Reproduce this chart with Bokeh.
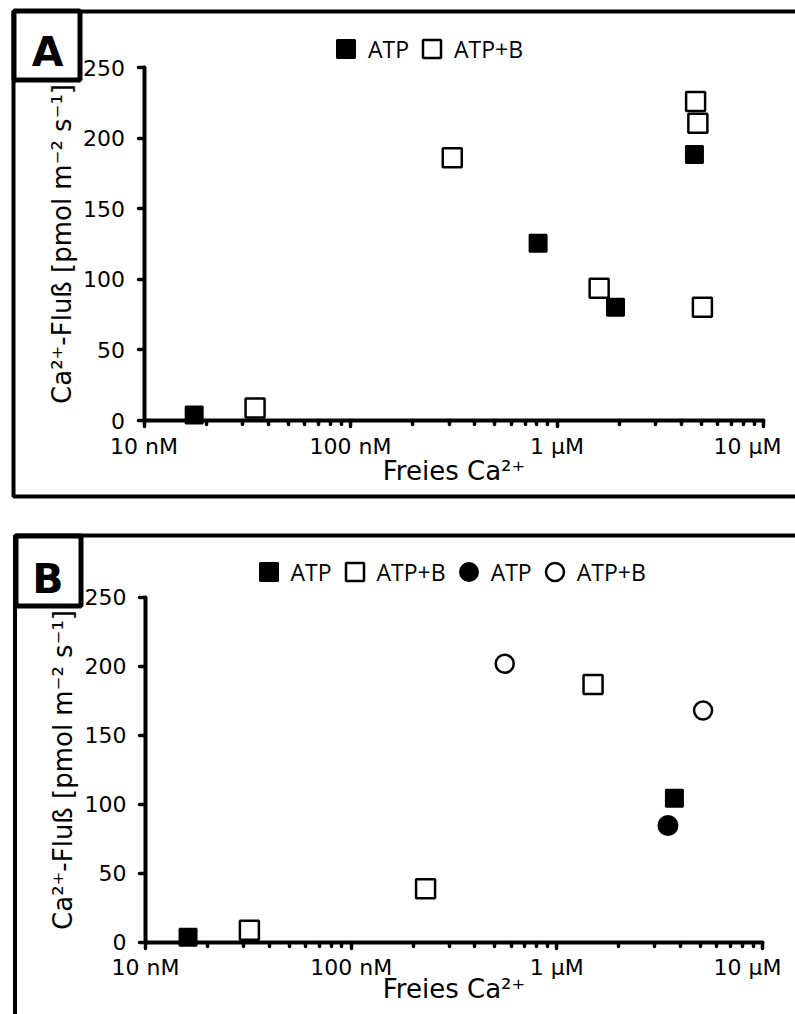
import math
from bokeh.plotting import figure
from bokeh.models import (Range1d, FixedTicker, BoxAnnotation, Label, Legend,
                          LegendItem)
from bokeh.layouts import column
from bokeh.embed import file_html
from bokeh.resources import INLINE

# ---------------- data (free Ca2+ in nM, flux in pmol m-2 s-1) ----------------
a_atp_x = [17.5, 810, 1920, 4630]
a_atp_y = [3.9, 125.5, 80.2, 188.4]
a_atpb_x = [34.5, 311, 1600, 4690, 4810, 5060]
a_atpb_y = [8.9, 186.0, 93.7, 226.0, 210.5, 80.2]

b_atp_sq_x = [16.1, 3730]
b_atp_sq_y = [3.6, 104.3]
b_atpb_sq_x = [32, 230, 1500]
b_atpb_sq_y = [8.7, 38.7, 186.7]
b_atp_ci_x = [3470]
b_atp_ci_y = [84.6]
b_atpb_ci_x = [558, 5140]
b_atpb_ci_y = [201.7, 167.9]

x_major = [10, 100, 1000, 10000]
x_major_labels = ["10 nM", "100 nM", "1 µM", "10 µM\u00a0\u00a0"]
x_minor = [m * d for d in (10, 100, 1000) for m in range(2, 10)]
y_ticks = [0, 50, 100, 150, 200, 250]

x_title = "Freies Ca²⁺"
y_title = "Ca²⁺-Fluß [pmol m⁻² s⁻¹]"

AX_FONT = "DejaVu Sans"
LEG_FONT = "Open Sans"
W = 795


def make_panel(height, ax_left, ax_right, ax_top, ax_bottom, xlab_standoff):
    """ax_* : canvas pixel positions of the axis ends (10 nM / 10 uM, 250 / 0)."""
    dec = (ax_right - ax_left) / 3.0
    x0 = 10 ** (1 - ax_left / dec)
    x1 = 10 ** (1 + (W - ax_left) / dec)
    ppu = (ax_bottom - ax_top) / 250.0
    y1 = 250 + ax_top / ppu
    y0 = -(height - ax_bottom) / ppu
    p = figure(width=W, height=height, x_axis_type="log",
               x_range=Range1d(x0, x1), y_range=Range1d(y0, y1),
               output_backend="svg", toolbar_location=None,
               min_border=0, min_border_left=0, min_border_right=0,
               min_border_top=0, min_border_bottom=0)
    p.outline_line_color = None
    p.grid.grid_line_color = None
    p.background_fill_color = "white"
    p.border_fill_color = "white"

    xa = p.xaxis[0]
    xa.ticker = FixedTicker(ticks=x_major, minor_ticks=x_minor)
    xa.major_label_overrides = {v: s for v, s in zip(x_major, x_major_labels)}
    xa.bounds = (10, 10000)
    xa.fixed_location = 0
    ya = p.yaxis[0]
    ya.ticker = FixedTicker(ticks=y_ticks)
    ya.bounds = (0, 250)
    ya.fixed_location = 10

    for ax in (xa, ya):
        ax.axis_line_width = 4
        ax.axis_line_cap = "round"
        ax.major_tick_line_width = 3.5
        ax.major_tick_line_cap = "round"
        ax.minor_tick_line_width = 3.5
        ax.minor_tick_line_cap = "round"
        ax.major_tick_in = 0
        ax.minor_tick_in = 0
        ax.major_label_text_font = AX_FONT
        ax.major_label_text_font_size = "22px"
        ax.major_label_text_color = "black"
        ax.axis_label_text_font = AX_FONT
        ax.axis_label_text_font_size = "26px"
        ax.axis_label_text_font_style = "normal"
        ax.axis_label_text_color = "black"
    xa.major_tick_out = 6
    xa.minor_tick_out = 4
    xa.major_label_standoff = 7
    xa.axis_label = x_title
    xa.axis_label_standoff = xlab_standoff
    ya.major_tick_out = 6
    ya.minor_tick_line_color = None
    ya.major_label_standoff = 13
    ya.axis_label = y_title
    ya.axis_label_standoff = 4
    return p


def add_frame(p, fl, ft, fb, bl, bt, br, bb, letter, lx, ly):
    frame = BoxAnnotation(left=fl, right=W + 40, top=ft, bottom=fb,
                          left_units="canvas", right_units="canvas",
                          top_units="canvas", bottom_units="canvas",
                          fill_alpha=0, line_color="black", line_width=4,
                          line_alpha=1, level="overlay")
    box = BoxAnnotation(left=bl, right=br, top=bt, bottom=bb,
                        left_units="canvas", right_units="canvas",
                        top_units="canvas", bottom_units="canvas",
                        fill_color="white", fill_alpha=1,
                        line_color="black", line_width=5, line_alpha=1,
                        level="overlay")
    p.add_layout(frame)
    p.add_layout(box)
    p.add_layout(Label(x=lx, y=ly, x_units="canvas", y_units="canvas",
                       text=letter, text_align="center",
                       text_baseline="alphabetic", text_font=AX_FONT,
                       text_font_style="bold", text_font_size="41px",
                       text_color="black", level="overlay"))


def add_legend(p, items, loc):
    leg = Legend(items=items, orientation="horizontal", location=loc,
                 glyph_width=45, glyph_height=45, label_standoff=0,
                 spacing=0, padding=0, margin=0,
                 border_line_color=None, background_fill_alpha=0,
                 label_text_font=LEG_FONT, label_text_font_size="23px",
                 label_text_color="black")
    p.add_layout(leg)


# ---------------- panel A ----------------
pa = make_panel(500, 143.5, 763, 67, 420, -6)
ra1 = pa.scatter(a_atp_x, a_atp_y, marker="square", size=17,
                 fill_color="black", line_color="black", line_width=2)
ra2 = pa.scatter(a_atpb_x, a_atpb_y, marker="square", size=19,
                 fill_color="white", line_color="black", line_width=2.5)
add_legend(pa, [LegendItem(label="ATP", renderers=[ra1]),
                LegendItem(label="ATP+B", renderers=[ra2])], (323, 428.8))
add_frame(pa, 13, 11, 496, 13.5, 10.5, 79.5, 79.5, "A", 47, 51)

# ---------------- panel B ----------------
pb = make_panel(514, 145, 762, 96.7, 441.7, -10)
rb1 = pb.scatter(b_atp_sq_x, b_atp_sq_y, marker="square", size=17,
                 fill_color="black", line_color="black", line_width=2)
rb2 = pb.scatter(b_atpb_sq_x, b_atpb_sq_y, marker="square", size=19,
                 fill_color="white", line_color="black", line_width=2.5)
rb3 = pb.scatter(b_atp_ci_x, b_atp_ci_y, marker="circle", size=19,
                 fill_color="black", line_color="black", line_width=2)
rb4 = pb.scatter(b_atpb_ci_x, b_atpb_ci_y, marker="circle", size=18,
                 fill_color="white", line_color="black", line_width=2.5)
add_legend(pb, [LegendItem(label="ATP", renderers=[rb1]),
                LegendItem(label="ATP+B", renderers=[rb2]),
                LegendItem(label="ATP", renderers=[rb3]),
                LegendItem(label="ATP+B", renderers=[rb4])], (245.5, 420))
add_frame(pb, 14.5, 35, 620, 15.5, 35.5, 80.5, 105.5, "B", 47.5, 78)

layout = column(pa, pb)
open("out.html", "w").write(file_html(layout, INLINE))
